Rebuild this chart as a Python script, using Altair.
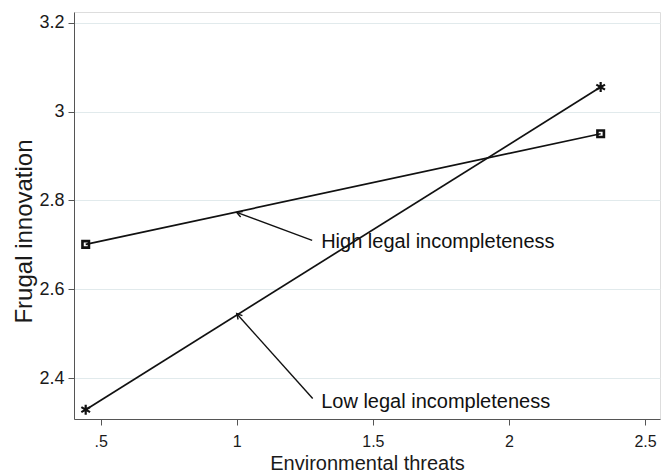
import math
import altair as alt
import pandas as pd

# ---- data ----
x_points = [0.445, 2.337]
high_y = [2.701, 2.950]
low_y = [2.329, 3.055]

x_ticks = [0.5, 1.0, 1.5, 2.0, 2.5]
y_ticks = [2.4, 2.6, 2.8, 3.0, 3.2]

labels = ["High legal incompleteness", "Low legal incompleteness"]
label_x = [1.31, 1.31]
label_y = [2.706, 2.347]
arrow_x_from = [1.277, 1.279]
arrow_y_from = [2.710, 2.354]
arrow_x_to = [1.0, 1.0]
arrow_y_to = [2.773, 2.545]

x_domain = [0.402, 2.555]
y_domain = [2.308, 3.224]

W, H = 586, 407

lines = pd.DataFrame({
    "series": ["High"] * 2 + ["Low"] * 2,
    "x": x_points + x_points,
    "y": high_y + low_y,
})

px_x = W / (x_domain[1] - x_domain[0])
px_y = H / (y_domain[1] - y_domain[0])
angles = []
for x0, y0, x1, y1 in zip(arrow_x_from, arrow_y_from, arrow_x_to, arrow_y_to):
    dx = (x1 - x0) * px_x
    dy = -(y1 - y0) * px_y
    angles.append((math.degrees(math.atan2(dx, -dy)) + 360) % 360)

ann = pd.DataFrame({
    "label": labels, "lx": label_x, "ly": label_y,
    "x0": arrow_x_from, "y0": arrow_y_from,
    "x1": arrow_x_to, "y1": arrow_y_to, "angle": angles,
})

FONT = "Liberation Sans"

xs = alt.Scale(domain=x_domain, nice=False, zero=False)
ys = alt.Scale(domain=y_domain, nice=False, zero=False)

x_enc = alt.X("x:Q", scale=xs, axis=alt.Axis(
    values=x_ticks, title="Environmental threats", grid=False,
    labelExpr="datum.value == 0.5 ? '.5' : format(datum.value, '~g')",
    labelFontSize=16, titleFontSize=20, labelPadding=8, titlePadding=4,
    tickSize=6, domainColor="#555555", tickColor="#555555",
    labelColor="#1a1a1a", titleColor="#1a1a1a", labelFont=FONT, titleFont=FONT,
    titleFontWeight="normal"))
y_enc = alt.Y("y:Q", scale=ys, axis=alt.Axis(
    values=y_ticks, title="Frugal innovation", grid=True,
    gridColor="#e1eaec", gridWidth=1,
    labelExpr="format(datum.value, '~g')",
    labelFontSize=18, titleFontSize=24, labelPadding=4, titlePadding=2,
    titleY=219,
    tickSize=6, domainColor="#555555", tickColor="#555555",
    labelColor="#1a1a1a", titleColor="#1a1a1a", labelFont=FONT, titleFont=FONT,
    titleFontWeight="normal"))

base = alt.Chart(lines)

line_layer = base.mark_line(color="#111111", strokeWidth=1.7).encode(
    x=x_enc, y=y_enc, detail="series:N")

square_layer = base.transform_filter(alt.datum.series == "High").mark_point(
    shape="square", filled=False, color="#111111", strokeWidth=2.6, size=42, opacity=1
).encode(x="x:Q", y="y:Q")

star_path = "M0,-1L0,1M-0.87,-0.5L0.87,0.5M-0.87,0.5L0.87,-0.5"
star_layer = base.transform_filter(alt.datum.series == "Low").mark_point(
    shape=star_path, filled=False, color="#111111", strokeWidth=2.2, size=100, opacity=1
).encode(x="x:Q", y="y:Q")

ab = alt.Chart(ann)
arrow_rules = ab.mark_rule(color="#111111", strokeWidth=1.4).encode(
    x="x0:Q", y="y0:Q", x2="x1:Q", y2="y1:Q")
arrow_heads = ab.mark_point(
    shape="M-0.55,1L0,0L0.55,1", filled=False, color="#111111",
    strokeWidth=1.4, size=110, opacity=1
).encode(x="x1:Q", y="y1:Q", angle=alt.Angle("angle:Q", scale=None))
texts = ab.mark_text(align="left", baseline="middle", fontSize=20, font=FONT,
                     color="#111111").encode(x="lx:Q", y="ly:Q", text="label:N")

chart = alt.layer(line_layer, square_layer, star_layer, arrow_rules, arrow_heads, texts).properties(
    width=W, height=H,
    autosize=alt.AutoSizeParams(type="none"),
    padding={"left": 66, "top": 4, "right": 4, "bottom": 60},
).configure_view(stroke=None).configure(background="white")

chart.save("out.html", embed_options={"renderer": "svg", "actions": False})
